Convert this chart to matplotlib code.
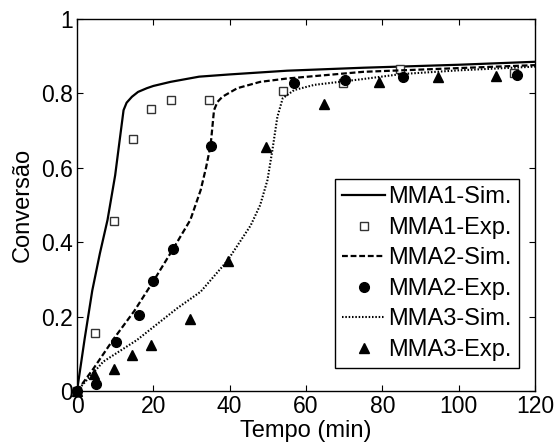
import matplotlib
matplotlib.use("Agg")
import matplotlib.pyplot as plt

plt.rcParams['font.family'] = ['Liberation Sans', 'DejaVu Sans']
plt.rcParams['lines.scale_dashes'] = False

# Simulated curves
t_sim1 = [0, 2, 4, 6, 8, 10, 11, 12.2, 13, 14.4, 16, 18.3, 20, 24.5, 32, 40, 55, 75, 100, 120]
y_sim1 = [0, 0.14, 0.27, 0.37, 0.46, 0.58, 0.66, 0.755, 0.775, 0.791, 0.804, 0.814, 0.820, 0.831, 0.845, 0.851, 0.861, 0.869, 0.877, 0.885]

t_sim2 = [0, 4.3, 9.6, 15, 20, 25.3, 29.7, 32.4, 33.8, 35, 35.9, 36.8, 38.1, 42, 48, 55, 75, 100, 120]
y_sim2 = [0, 0.06, 0.14, 0.215, 0.295, 0.384, 0.46, 0.54, 0.60, 0.66, 0.755, 0.777, 0.791, 0.814, 0.831, 0.840, 0.858, 0.868, 0.876]

t_sim3 = [0, 6.9, 15.7, 26.2, 32.4, 39.4, 45.5, 48, 49.9, 51.2, 52.5, 53.9, 56.9, 62.2, 74.5, 85, 100, 120]
y_sim3 = [0, 0.079, 0.137, 0.222, 0.267, 0.350, 0.445, 0.50, 0.567, 0.648, 0.737, 0.787, 0.809, 0.823, 0.838, 0.852, 0.862, 0.872]

# Experimental points
t_exp1 = [0, 4.6, 9.7, 14.6, 19.4, 24.6, 34.6, 54.1, 69.6, 84.6, 114.6]
y_exp1 = [0, 0.157, 0.457, 0.678, 0.757, 0.783, 0.783, 0.807, 0.827, 0.866, 0.856]

t_exp2 = [0, 4.9, 10.3, 16.2, 20.0, 25.1, 35.2, 56.8, 70.3, 85.4, 115.3]
y_exp2 = [0, 0.018, 0.133, 0.205, 0.295, 0.382, 0.659, 0.829, 0.836, 0.843, 0.849]

t_exp3 = [0, 4.5, 9.65, 14.4, 19.5, 29.5, 39.5, 49.6, 64.6, 79.0, 94.5, 109.8]
y_exp3 = [0, 0.045, 0.058, 0.098, 0.123, 0.194, 0.349, 0.657, 0.771, 0.831, 0.845, 0.847]

x_ticks = [0, 20, 40, 60, 80, 100, 120]
y_ticks = [0, 0.2, 0.4, 0.6, 0.8, 1]
y_tick_labels = ["0", "0.2", "0.4", "0.6", "0.8", "1"]

fig = plt.figure(figsize=(5.58, 4.44), dpi=100)
ax = fig.add_axes([77/558, 53/444, 458/558, 372/444])

tfs = 16.5
lfs = 17
ax.plot(t_sim1, y_sim1, color='black', lw=1.6, ls='-', label='MMA1-Sim.')
ax.plot(t_exp1, y_exp1, ls='none', marker='s', ms=6, mfc='white', mec='#333333', mew=1.0,
        label='MMA1-Exp.', clip_on=False)
ax.plot(t_sim2, y_sim2, color='black', lw=1.6, dashes=(4.2, 2.0), label='MMA2-Sim.')
ax.plot(t_exp2, y_exp2, ls='none', marker='o', ms=7, mfc='black', mec='black',
        label='MMA2-Exp.', clip_on=False)
ax.plot(t_sim3, y_sim3, color='black', lw=1.5, dashes=(1.1, 1.3), label='MMA3-Sim.')
ax.plot(t_exp3, y_exp3, ls='none', marker='^', ms=7.5, mfc='black', mec='black',
        label='MMA3-Exp.', clip_on=False)

ax.set_xlim(0, 120)
ax.set_ylim(0, 1)
ax.set_xticks(x_ticks)
ax.set_yticks(y_ticks)
ax.set_yticklabels(y_tick_labels)
ax.tick_params(direction='in', top=True, right=True, length=4, width=0.8,
               labelsize=tfs, pad=3)
for s in ax.spines.values():
    s.set_linewidth(1.0)

ax.set_xlabel('Tempo (min)', fontsize=lfs, labelpad=1.5)
ax.set_ylabel('Conversão', fontsize=lfs, labelpad=5)

leg = ax.legend(loc='lower right', bbox_to_anchor=((519-77)/458, (391-368)/372),
                borderaxespad=0, fontsize=lfs, frameon=True, fancybox=False,
                edgecolor='black', framealpha=1, handlelength=1.8,
                handletextpad=0.15, labelspacing=0.36, borderpad=0.3,
                numpoints=1)
leg.get_frame().set_linewidth(1.0)

fig.savefig('out.png', dpi=100)
